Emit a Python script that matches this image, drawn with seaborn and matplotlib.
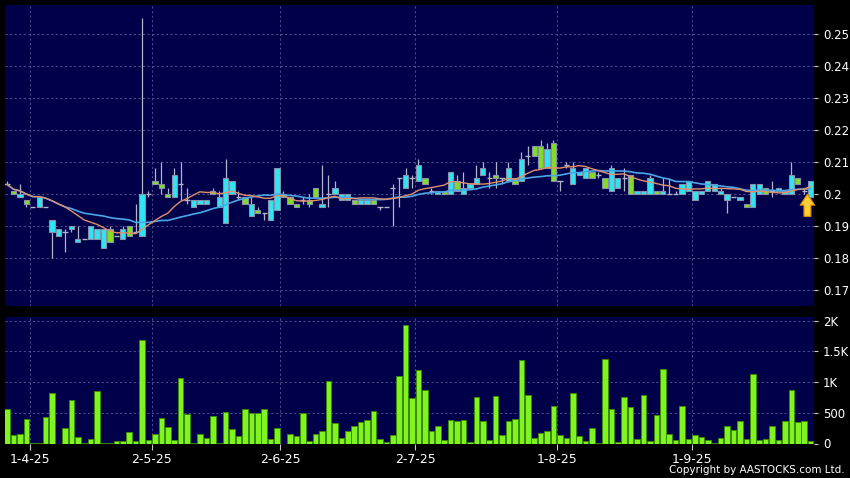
import numpy as np
import pandas as pd
import matplotlib
matplotlib.use('Agg')
import matplotlib.pyplot as plt
import seaborn as sns

# daily candles (price in HKD, volume in K shares)
opens = [0.203, 0.201, 0.199, 0.198, 0.196, 0.196, 0.196, 0.188, 0.187, 0.188,
         0.189, 0.185, 0.186, 0.186, 0.186, 0.183, 0.189, 0.187, 0.186, 0.190,
         0.188, 0.187, 0.200, 0.204, 0.203, 0.200, 0.199, 0.203, 0.198, 0.196,
         0.197, 0.197, 0.201, 0.196, 0.191, 0.200, 0.199, 0.199, 0.193, 0.195,
         0.194, 0.192, 0.195, 0.200, 0.199, 0.197, 0.198, 0.198, 0.202, 0.196,
         0.200, 0.200, 0.198, 0.198, 0.198, 0.197, 0.197, 0.198, 0.196, 0.196,
         0.202, 0.205, 0.202, 0.205, 0.204, 0.205, 0.201, 0.200, 0.201, 0.200,
         0.204, 0.200, 0.202, 0.203, 0.206, 0.205, 0.206, 0.205, 0.204, 0.205,
         0.204, 0.212, 0.215, 0.215, 0.208, 0.216, 0.204, 0.209, 0.203, 0.206,
         0.205, 0.207, 0.206, 0.205, 0.201, 0.202, 0.205, 0.206, 0.200, 0.200,
         0.200, 0.201, 0.200, 0.200, 0.200, 0.200, 0.201, 0.198, 0.200, 0.201,
         0.201, 0.200, 0.198, 0.199, 0.198, 0.197, 0.196, 0.200, 0.202, 0.201,
         0.201, 0.200, 0.200, 0.205, 0.201, 0.199]
highs = [0.204, 0.201, 0.203, 0.198, 0.196, 0.199, 0.196, 0.192, 0.189, 0.189,
         0.190, 0.190, 0.186, 0.190, 0.189, 0.189, 0.190, 0.187, 0.190, 0.190,
         0.197, 0.255, 0.201, 0.208, 0.210, 0.202, 0.208, 0.210, 0.202, 0.198,
         0.198, 0.198, 0.202, 0.201, 0.211, 0.204, 0.201, 0.199, 0.199, 0.196,
         0.194, 0.198, 0.208, 0.201, 0.199, 0.197, 0.199, 0.200, 0.202, 0.209,
         0.206, 0.204, 0.200, 0.200, 0.198, 0.198, 0.198, 0.198, 0.196, 0.196,
         0.203, 0.205, 0.208, 0.206, 0.211, 0.205, 0.202, 0.201, 0.201, 0.207,
         0.206, 0.207, 0.203, 0.209, 0.210, 0.207, 0.210, 0.205, 0.210, 0.205,
         0.213, 0.215, 0.215, 0.217, 0.216, 0.217, 0.204, 0.210, 0.210, 0.207,
         0.208, 0.207, 0.207, 0.205, 0.209, 0.205, 0.208, 0.206, 0.201, 0.201,
         0.206, 0.201, 0.205, 0.205, 0.201, 0.203, 0.204, 0.201, 0.201, 0.204,
         0.203, 0.202, 0.200, 0.199, 0.199, 0.197, 0.203, 0.203, 0.202, 0.204,
         0.202, 0.201, 0.210, 0.205, 0.202, 0.204]
lows = [0.203, 0.200, 0.199, 0.196, 0.196, 0.196, 0.196, 0.180, 0.187, 0.182,
        0.188, 0.185, 0.186, 0.186, 0.186, 0.183, 0.185, 0.187, 0.186, 0.187,
        0.188, 0.187, 0.199, 0.203, 0.200, 0.199, 0.199, 0.198, 0.197, 0.196,
        0.197, 0.197, 0.200, 0.196, 0.191, 0.200, 0.198, 0.197, 0.193, 0.194,
        0.192, 0.192, 0.195, 0.199, 0.197, 0.196, 0.197, 0.196, 0.199, 0.196,
        0.196, 0.200, 0.198, 0.198, 0.197, 0.197, 0.197, 0.197, 0.195, 0.196,
        0.190, 0.196, 0.202, 0.202, 0.204, 0.203, 0.200, 0.200, 0.200, 0.200,
        0.201, 0.200, 0.202, 0.203, 0.206, 0.202, 0.202, 0.203, 0.204, 0.203,
        0.204, 0.209, 0.212, 0.208, 0.208, 0.204, 0.201, 0.208, 0.203, 0.206,
        0.205, 0.205, 0.205, 0.202, 0.201, 0.202, 0.201, 0.200, 0.200, 0.200,
        0.200, 0.200, 0.200, 0.200, 0.200, 0.200, 0.201, 0.198, 0.200, 0.201,
        0.201, 0.200, 0.194, 0.199, 0.198, 0.196, 0.196, 0.200, 0.200, 0.199,
        0.201, 0.200, 0.200, 0.203, 0.200, 0.199]
closes = [0.203, 0.200, 0.200, 0.197, 0.196, 0.199, 0.196, 0.192, 0.189, 0.188,
          0.190, 0.186, 0.186, 0.190, 0.189, 0.189, 0.185, 0.187, 0.189, 0.187,
          0.188, 0.200, 0.200, 0.203, 0.202, 0.199, 0.206, 0.203, 0.198, 0.198,
          0.198, 0.198, 0.200, 0.199, 0.205, 0.204, 0.199, 0.197, 0.197, 0.194,
          0.194, 0.198, 0.208, 0.199, 0.197, 0.196, 0.198, 0.197, 0.199, 0.197,
          0.200, 0.202, 0.200, 0.200, 0.197, 0.198, 0.198, 0.197, 0.196, 0.196,
          0.202, 0.205, 0.206, 0.205, 0.209, 0.203, 0.201, 0.201, 0.200, 0.207,
          0.201, 0.202, 0.203, 0.205, 0.208, 0.205, 0.205, 0.205, 0.208, 0.203,
          0.211, 0.212, 0.212, 0.208, 0.214, 0.204, 0.204, 0.209, 0.208, 0.207,
          0.208, 0.205, 0.206, 0.202, 0.208, 0.205, 0.205, 0.200, 0.201, 0.201,
          0.205, 0.200, 0.201, 0.200, 0.200, 0.203, 0.204, 0.201, 0.201, 0.204,
          0.203, 0.201, 0.200, 0.199, 0.199, 0.196, 0.203, 0.203, 0.200, 0.201,
          0.202, 0.201, 0.206, 0.203, 0.201, 0.204]
volumes = [556, 142, 147, 398, 16, 3, 425, 828, 0, 250,
           703, 98, 16, 71, 850, 11, 11, 44, 44, 180,
           33, 1680, 49, 158, 414, 267, 65, 1063, 485, 5,
           153, 87, 441, 11, 518, 229, 125, 567, 496, 496,
           567, 71, 245, 0, 147, 114, 496, 33, 153, 196,
           1019, 338, 82, 202, 289, 349, 376, 529, 71, 22,
           131, 1095, 1929, 741, 1204, 877, 196, 289, 49, 381,
           365, 376, 22, 763, 365, 65, 768, 131, 360, 392,
           1357, 785, 87, 174, 202, 605, 142, 82, 818, 120,
           33, 256, 5, 1368, 556, 22, 758, 589, 71, 785,
           38, 458, 1221, 153, 65, 616, 76, 131, 104, 49,
           3, 82, 289, 218, 360, 76, 1128, 49, 76, 278,
           65, 360, 867, 343, 360, 44]

date_labels = ['1-4-25', '2-5-25', '2-6-25', '2-7-25', '1-8-25', '1-9-25']
date_index = [4, 23, 43, 64, 86, 107]
price_ticks = [0.17, 0.18, 0.19, 0.20, 0.21, 0.22, 0.23, 0.24, 0.25]
price_labels = ['0.17', '0.18', '0.19', '0.2', '0.21', '0.22', '0.23', '0.24', '0.25']
vol_ticks = [0, 500, 1000, 1500, 2000]
vol_labels = ['0', '500', '1K', '1.5K', '2K']

sns.set_style('dark')
plt.rcParams['font.family'] = ['DejaVu Sans']

df = pd.DataFrame({'open': opens, 'high': highs, 'low': lows,
                   'close': closes, 'volume': volumes})
df['idx'] = np.arange(len(df))
df['ma10'] = df['close'].rolling(10, min_periods=1).mean()
df['ma20'] = df['close'].rolling(20, min_periods=1).mean()

BG = '#00004a'
GRID = '#5c5f98'
UP = '#2ee6f2'
DOWN = '#80e020'
EDGE = '#8890aa'
WICK = '#b0b4c6'
DASH = (0, (2.5, 3))

fig = plt.figure(figsize=(8.5, 4.78), dpi=100, facecolor='black')
ax = fig.add_axes([4.5 / 850, 1 - 306 / 478, 810 / 850, 301 / 478])
axv = fig.add_axes([4.5 / 850, 1 - 443.5 / 478, 810 / 850, 127 / 478])

for a in (ax, axv):
    a.set_facecolor(BG)
    for s in a.spines.values():
        s.set_visible(False)

# grid lines
grid_x = [i - 0.5 for i in date_index]
for gx in grid_x:
    ax.axvline(gx, color=GRID, lw=0.6, ls=DASH, zorder=0)
    axv.axvline(gx, color=GRID, lw=0.6, ls=DASH, zorder=0)
for p in price_ticks:
    ax.axhline(p, color=GRID, lw=0.6, ls=DASH, zorder=0)
for v in vol_ticks[1:]:
    axv.axhline(v, color=GRID, lw=0.6, ls=DASH, zorder=0)

# wicks
ax.vlines(df['idx'], df['low'], df['high'], color=WICK, lw=0.9, zorder=2)

# bodies
w = 0.82
up = df[df['close'] > df['open']]
down = df[df['close'] < df['open']]
flat = df[df['close'] == df['open']]
ax.bar(up['idx'], up['close'] - up['open'], bottom=up['open'], width=w,
       color=UP, edgecolor=EDGE, linewidth=0.8, zorder=3)
ax.bar(down['idx'], down['open'] - down['close'], bottom=down['close'], width=w,
       color=DOWN, edgecolor=EDGE, linewidth=0.8, zorder=3)
ax.hlines(flat['close'], flat['idx'] - w / 2, flat['idx'] + w / 2,
          color=WICK, lw=1.0, zorder=3)

# moving averages
sns.lineplot(data=df, x='idx', y='ma20', ax=ax, color='#4aa6e6', lw=1.2, zorder=4)
sns.lineplot(data=df, x='idx', y='ma10', ax=ax, color='#e0906a', lw=1.0, zorder=4)

# latest-bar marker
last = df['idx'].iloc[-1]
ax.annotate('', xy=(last - 0.5, 0.2), xytext=(last - 0.5, 0.1930),
            arrowprops=dict(arrowstyle='simple,head_width=1.05,head_length=0.8,tail_width=0.5',
                            fc='#ffcc33', ec='#d08a00', lw=0.8,
                            shrinkA=0, shrinkB=0), zorder=6)

ax.set_xlim(-0.4, 125.6)
ax.set_ylim(0.1650, 0.2591)
ax.set_xlabel('')
ax.set_ylabel('')
ax.set_xticks([])
ax.yaxis.tick_right()
ax.set_yticks(price_ticks)
ax.set_yticklabels(price_labels)
ax.tick_params(axis='y', colors='#c8c8d0', labelcolor='white', length=3,
               width=0.8, pad=3, labelsize=8.5, right=True, left=False)

# volume
sns.barplot(x=df['idx'], y=df['volume'], ax=axv, native_scale=True,
            color='#80f420', saturation=1, edgecolor='#3a8a00', linewidth=0.7,
            width=0.88, errorbar=None, zorder=2)
axv.set_xlim(-0.4, 125.6)
axv.set_ylim(0, 2068)
axv.set_xlabel('')
axv.set_ylabel('')
axv.yaxis.tick_right()
axv.set_yticks(vol_ticks)
axv.set_yticklabels(vol_labels)
axv.set_xticks(grid_x)
axv.set_xticklabels(date_labels)
axv.tick_params(axis='y', colors='#c8c8d0', labelcolor='white', length=3,
                width=0.8, pad=3, labelsize=8.5, right=True, left=False)
axv.tick_params(axis='x', colors='#c8c8d0', labelcolor='white', length=4,
                width=0.8, pad=3, labelsize=9, bottom=True)

fig.text(845 / 850, 1 - 470 / 478, 'Copyright by AASTOCKS.com Ltd.',
         color='white', fontsize=7.5, ha='right', va='center')

fig.savefig('out.png', dpi=100, facecolor='black')
